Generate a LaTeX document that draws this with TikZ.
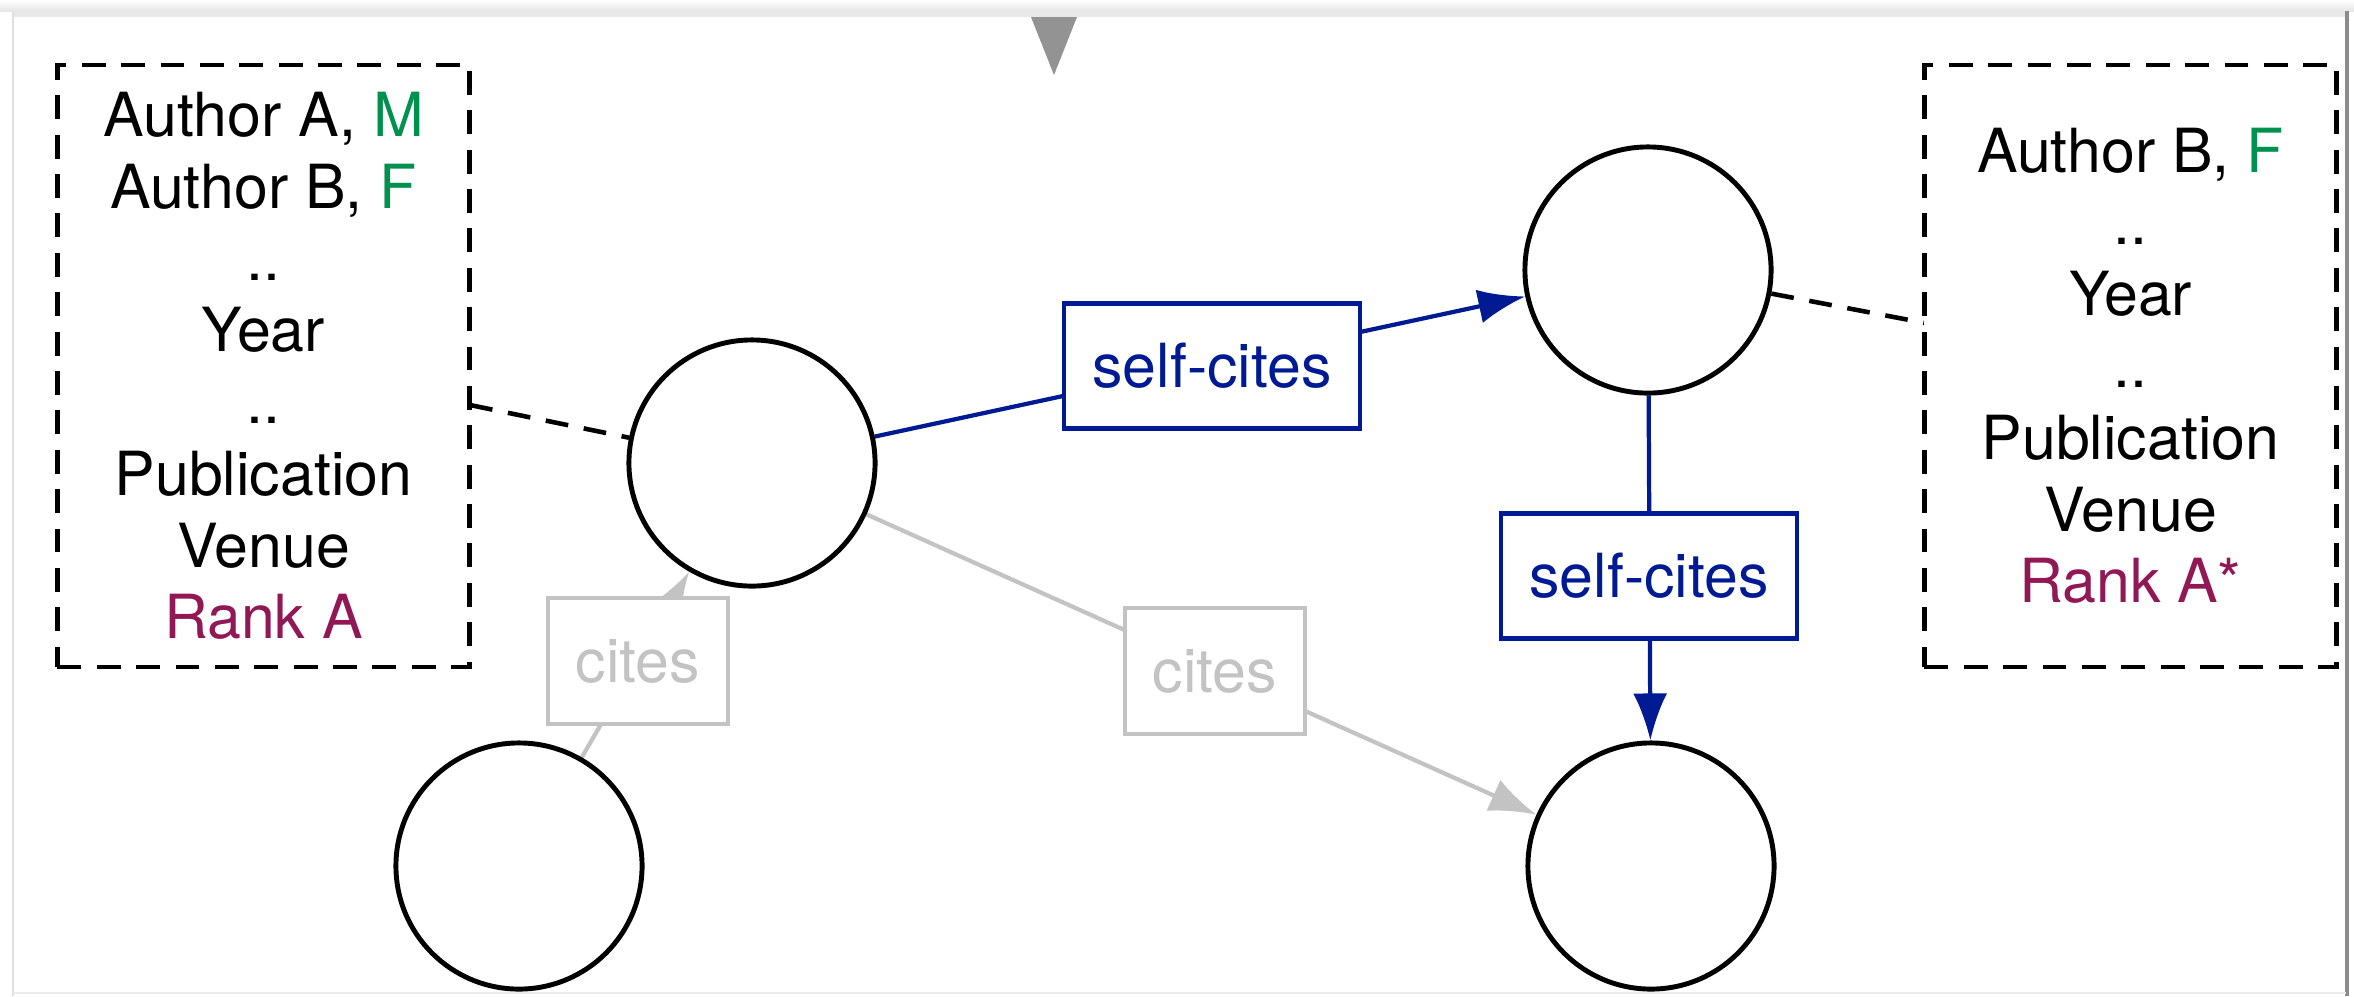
\documentclass[tikz,border=0pt]{standalone}
\usepackage{fontspec}
\setmainfont{TeX Gyre Heros}
\usetikzlibrary{arrows.meta}
\definecolor{selfblue}{RGB}{0,26,148}
\definecolor{citegray}{RGB}{195,195,195}
\definecolor{mgreen}{RGB}{0,145,78}
\definecolor{rankred}{RGB}{145,24,84}
\definecolor{trigray}{RGB}{147,147,147}
\pgfdeclarelayer{framelayer}
\pgfdeclarelayer{edgelayer}
\pgfsetlayers{framelayer,edgelayer,main}
\begin{document}
\begin{tikzpicture}[x=0.01cm,y=-0.01cm,
 every node/.style={font=\fontsize{17.3}{20.4}\selectfont},
 paper/.style={circle,draw=black,fill=white,line width=1.4pt,minimum size=2.46cm,inner sep=0pt},
 infobox/.style={draw=black,fill=white,line width=1.3pt,dash pattern=on 6.8pt off 4.4pt,minimum width=4.12cm,minimum height=6.02cm,align=center,inner sep=0pt},
 selfbox/.style={draw=selfblue,fill=white,text=selfblue,line width=1.25pt,minimum width=2.96cm,minimum height=1.25cm,inner sep=0pt},
 citebox/.style={draw=citegray,fill=white,text=citegray,line width=1.25pt,minimum width=1.8cm,minimum height=1.26cm,inner sep=0pt},
 selfedge/.style={draw=selfblue,line width=1.2pt,-{Latex[length=0.47cm,width=0.34cm]}},
 citeedge/.style={draw=citegray,line width=1.2pt,-{Latex[length=0.47cm,width=0.34cm]}},
 linkedge/.style={draw=black,line width=1.3pt,dash pattern=on 6.5pt off 4.5pt},
]
\useasboundingbox (0,0) rectangle (2354,996);
\begin{pgfonlayer}{framelayer}
\fill[white] (0,0) rectangle (2354,996);
\shade[top color=white,bottom color=black!10] (0,0) rectangle (2354,11);
\fill[black!9] (12,11) rectangle (2346,17);
\draw[black!12,line width=0.6pt] (13,11) -- (13,996);
\draw[black!45,line width=1.2pt] (2347,11) -- (2347,996);
\draw[black!8,line width=0.6pt] (13,993) -- (2346,993);
\fill[trigray] (1031,17) -- (1077,17) -- (1054,75) -- cycle;
\end{pgfonlayer}

\node[infobox] (lbox) at (263.5,366) {Author A, {\color{mgreen}M}\\Author B, {\color{mgreen}F}\\..\\Year\\..\\Publication\\Venue\\{\color{rankred}Rank A}};
\node[infobox] (rbox) at (2130.5,366) {Author B, {\color{mgreen}F}\\..\\Year\\..\\Publication\\Venue\\{\color{rankred}Rank A*}};
\node[paper] (A) at (752,463) {};
\node[paper] (B) at (1648,270) {};
\node[paper] (C) at (519,866) {};
\node[paper] (D) at (1651,866) {};
\node[selfbox] (s1) at (1212,366) {self-cites};
\node[selfbox] (s2) at (1649,576) {self-cites};
\node[citebox] (c1) at (638,661) {cites};
\node[citebox] (c2) at (1215,671) {cites};
\coordinate (lpin) at (470,405);
\coordinate (rpin) at (1925,323);

\begin{pgfonlayer}{edgelayer}
\draw[selfedge] (A) -- (B);
\draw[selfedge] (B) -- (D);
\draw[citeedge] (C) -- (A);
\draw[citeedge] (A) -- (D);
\draw[linkedge] (lpin) -- (A);
\draw[linkedge] (B) -- (rpin);
\end{pgfonlayer}
\end{tikzpicture}
\end{document}
